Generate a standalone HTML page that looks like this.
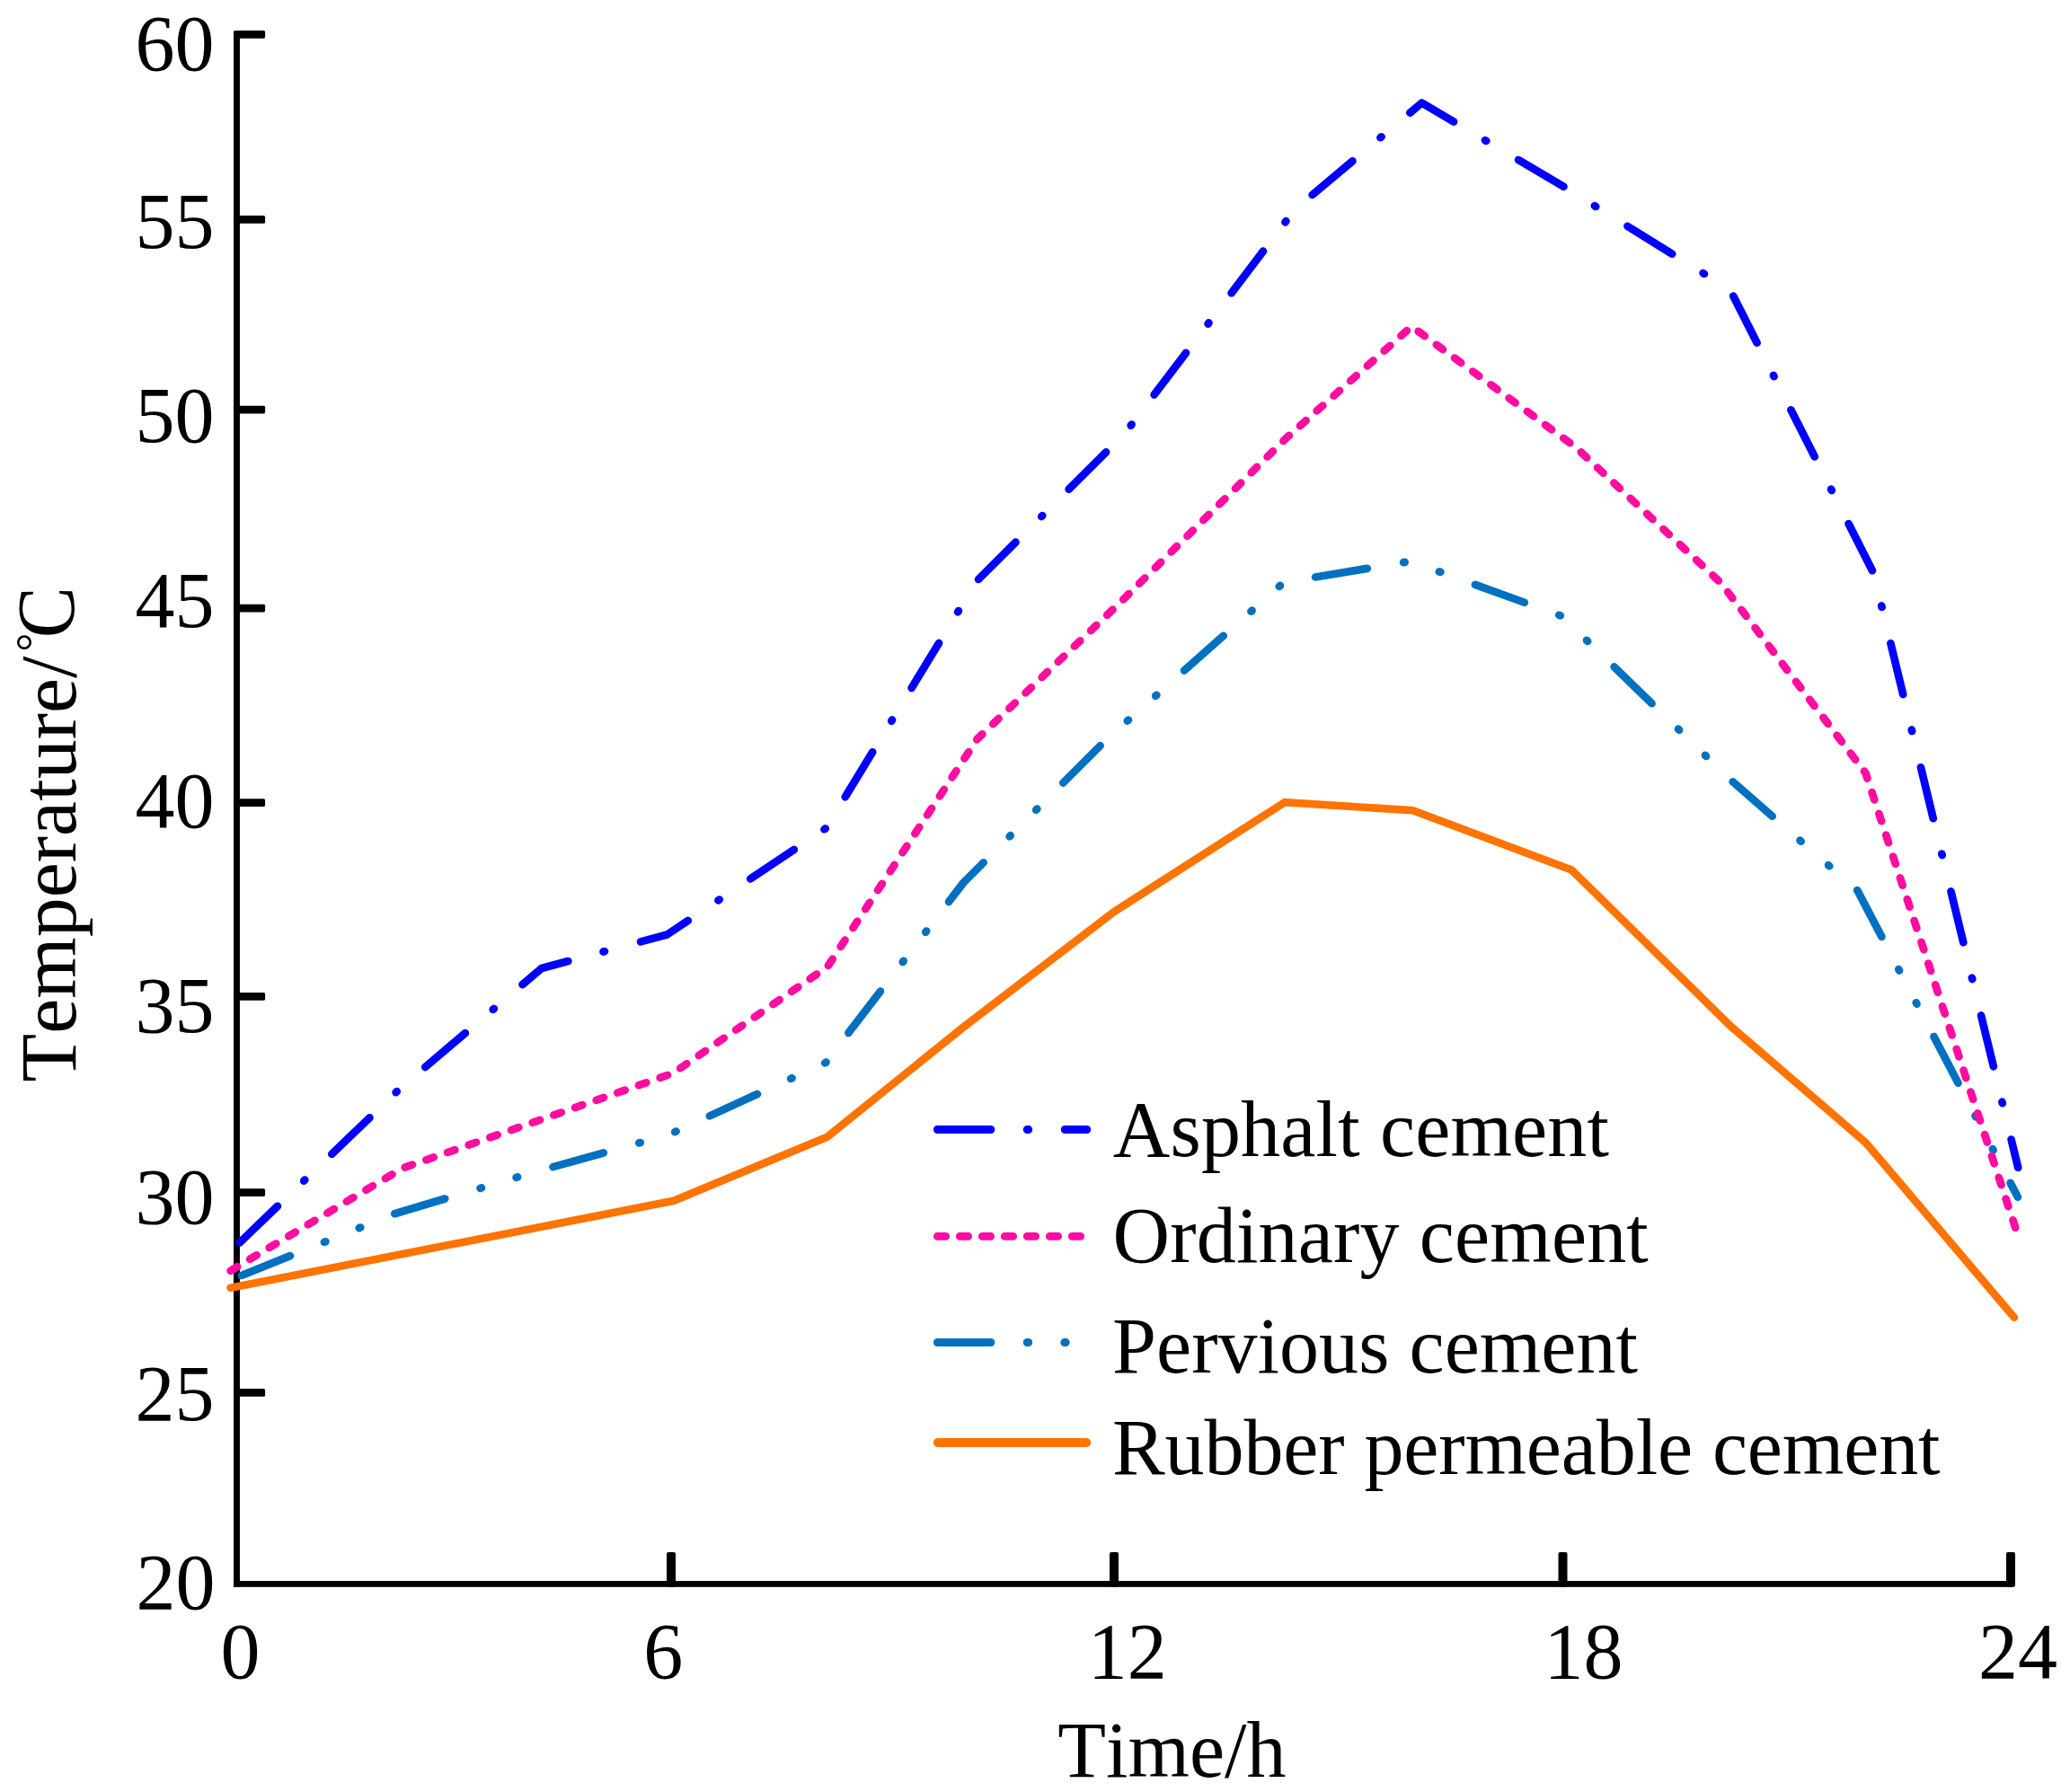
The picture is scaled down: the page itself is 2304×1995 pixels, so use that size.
<!DOCTYPE html>
<html lang="en"><head><meta charset="utf-8"><title>Temperature vs Time</title>
<style>
html,body{margin:0;padding:0;background:#fff;}
body{width:2304px;height:1995px;overflow:hidden;}
svg{display:block;}
text{font-family:"Liberation Serif", "Noto Serif CJK SC", serif;font-size:88px;fill:#000;font-kerning:none;}
</style></head><body>
<svg width="2304" height="1995" viewBox="0 0 2304 1995">
<rect width="2304" height="1995" fill="#fff"/>
<g fill="#000" stroke="none">
<rect x="260" y="36.5" width="6.95" height="1730.3"/>
<rect x="260" y="1760" width="1980" height="6.8"/>
<rect x="260" y="33.925" width="35.1" height="8.75" rx="1.6"/>
<rect x="260" y="240.025" width="35.1" height="8.75" rx="1.6"/>
<rect x="260" y="451.625" width="35.1" height="8.75" rx="1.6"/>
<rect x="260" y="672.625" width="35.1" height="8.75" rx="1.6"/>
<rect x="260" y="889.125" width="35.1" height="8.75" rx="1.6"/>
<rect x="260" y="1105.03" width="35.1" height="8.75" rx="1.6"/>
<rect x="260" y="1323.22" width="35.1" height="8.75" rx="1.6"/>
<rect x="260" y="1546.03" width="35.1" height="8.75" rx="1.6"/>
<rect x="742" y="1728" width="10" height="38.8" rx="2"/>
<rect x="1235" y="1728" width="10" height="38.8" rx="2"/>
<rect x="1734.5" y="1728" width="10" height="38.8" rx="2"/>
<rect x="2233" y="1728" width="10" height="38.8" rx="2"/>
</g>
<g>
<text x="238.5" y="78" text-anchor="end">60</text>
<text x="238.5" y="275.8" text-anchor="end">55</text>
<text x="238.5" y="491.5" text-anchor="end">50</text>
<text x="238.5" y="698" text-anchor="end">45</text>
<text x="238.5" y="920.8" text-anchor="end">40</text>
<text x="238.5" y="1149.2" text-anchor="end">35</text>
<text x="238.5" y="1361.7" text-anchor="end">30</text>
<text x="238.5" y="1581.4" text-anchor="end">25</text>
<text x="239.5" y="1791.3" text-anchor="end">20</text>
<text x="245.6" y="1868.2">0</text>
<text x="716.2" y="1868.2">6</text>
<text x="1210.7" y="1868.2">12</text>
<text x="1718.5" y="1868.2">18</text>
<text x="2201.9" y="1868.2">24</text>
<text x="1177.3" y="1977.7">Time/h</text>
<text transform="translate(84,1204.5) rotate(-90)">Temperature/<tspan font-size="52" dx="5" dy="-30.5">°</tspan><tspan font-size="92" dx="-5.5" dy="28.5" textLength="57" lengthAdjust="spacingAndGlyphs">C</tspan></text>
</g>
<g fill="none" stroke-width="8.7" stroke-linecap="round" stroke-linejoin="miter">
<polyline points="256.5,1433.75 749.9,1336.8 920.8,1265.7 1071,1144.5 1240,1015 1430,893.2 1572.6,902.2 1749.2,968.4 1927,1143 2076.5,1272 2241.9,1466.7" stroke="#ff7300"/>
<polyline points="268.8,1420 439,1351.3 590,1306.3 745,1263 919.2,1182.9 1072.5,982.5 1231.6,823.2 1428.8,648.4 1570,624.8 1738.2,685.8 1926,868 2067.5,991.5 2245.9,1332.7" stroke-linejoin="round" stroke="#0070c0" stroke-dasharray="58.4 40.98 1.5 40.37 1.5 41.07"/>
<polyline points="256.6,1414.7 447.9,1300.6 748.9,1194.9 920.9,1076.4 1087.8,822.6 1245,672.5 1431,488.3 1571.2,363.4 1753.7,497.8 1915.5,649 2076.5,860.7 2243.2,1366.8" stroke-linejoin="round" stroke="#ff0ca0" stroke-dasharray="8.8 16.28"/>
<polyline points="266.8,1383.3 445,1212 602.8,1078 742.5,1040.5 919.8,921.7 1087,647 1252,482.5 1441,233.5 1582.5,114.5 1740,207.5 1925.8,322.8 2085.4,638.1 2246.2,1299.9" stroke-linejoin="round" stroke="#0000ff" stroke-dasharray="58.5 40.55 1.5 41.54"/>
</g>
<g fill="none" stroke-width="8.9" stroke-linecap="round">
<line x1="1043.3" y1="1257.5" x2="1209.8" y2="1257.5" stroke="#0000ff" stroke-dasharray="59.6 40.3 1.5 40.5 60"/>
<line x1="1043.3" y1="1376.4" x2="1202.6" y2="1376.4" stroke="#ff0ca0" stroke-dasharray="9.3 15.7"/>
<line x1="1043.3" y1="1494.5" x2="1186.2" y2="1494.5" stroke="#0070c0" stroke-dasharray="59.6 40.3 1.5 40.1 1.5 100"/>
<line x1="1043.9" y1="1606" x2="1209.2" y2="1606" stroke="#ff7300" stroke-width="10"/>
</g>
<g>
<text x="1238.7" y="1287" textLength="552.3" lengthAdjust="spacing">Asphalt cement</text>
<text x="1238.5" y="1405.2" textLength="596.3" lengthAdjust="spacing">Ordinary cement</text>
<text x="1238" y="1528.4" textLength="584.9" lengthAdjust="spacing">Pervious cement</text>
<text x="1238" y="1640.6" textLength="921.5" lengthAdjust="spacing">Rubber permeable cement</text>
</g>
</svg></body></html>
